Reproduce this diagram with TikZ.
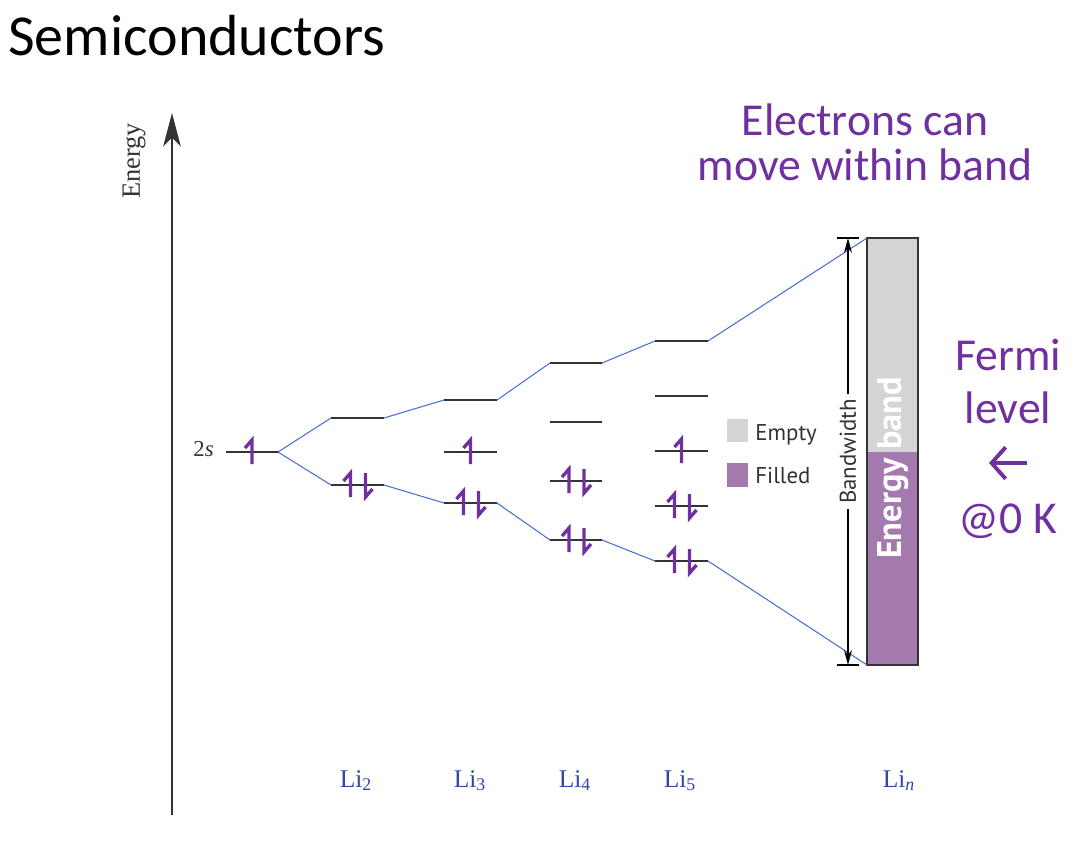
\documentclass[tikz,border=0pt]{standalone}
\usepackage{fontspec}
\setmainfont{Liberation Serif}
\newfontfamily\calibri{Carlito}
\newfontfamily\myriad{PT Sans}
\usetikzlibrary{arrows.meta}

\definecolor{spinpurple}{HTML}{7030A0}
\definecolor{bandpurple}{HTML}{A47AAE}
\definecolor{bandgray}{HTML}{D4D4D6}
\definecolor{corrblue}{HTML}{4A6FD6}
\definecolor{labelblue}{HTML}{3445A8}
\definecolor{levelgray}{HTML}{333333}

\begin{document}
\begin{tikzpicture}[x=0.02cm, y=-0.02cm,
  mo/.style={draw=levelgray, line width=1.5pt},
  corr/.style={draw=corrblue, line width=0.6pt},
  spin/.style={draw=spinpurple, line width=1.9pt},
  note/.style={text=spinpurple, inner sep=0pt, anchor=base},
  li/.style={text=labelblue, font=\fontsize{14.5}{17}\selectfont, anchor=base},
  legtext/.style={text=levelgray, font=\myriad\fontsize{13}{16}\selectfont, anchor=base west, inner sep=0pt}]
\useasboundingbox (0,0) rectangle (1092,860);

\def\spinh{12}
\def\barb{7}

% title
\node[anchor=base west, inner sep=0pt, font=\calibri\fontsize{33}{40}\selectfont] (title) at (8,55) {Semiconductors};

% energy axis
\coordinate (axbot) at (172,815);
\coordinate (axtop) at (172,113);
\draw[levelgray, line width=0.7pt, -{Stealth[length=19pt, width=10pt, inset=5pt]}] (axbot) -- (axtop);
\node[rotate=90, text=levelgray, font=\fontsize{15}{18}\selectfont] (elabel) at (134,161) {Energy};

% molecular levels
\draw[mo] (226,452) coordinate (s2L) -- (278,452) coordinate (s2R);
\node[anchor=base east, inner sep=0pt, text=levelgray, font=\fontsize{13}{16}\selectfont] (s2lab) at (214,456) {2\textit{s}};

\foreach \n/\l/\r/\y in {a2/331/384/418, b2/331/384/485,
                         a3/444/497/400, m3/444/497/452, b3/444/497/503,
                         a4/550/602/363, m4/550/602/422, n4/550/602/481, b4/550/602/540,
                         a5/655/708/341, m5/655/708/396, n5/655/708/451, o5/655/708/506, b5/655/708/561}
  \draw[mo] (\l,\y) coordinate (\n L) -- (\r,\y) coordinate (\n R);

% energy band
\coordinate (bandNW) at (867,238);
\coordinate (fermiE) at (918,452);
\coordinate (fermiW) at (867,452);
\coordinate (bandSE) at (918,665);
\coordinate (bandSW) at (867,665);
\fill[bandgray] (bandNW) rectangle (fermiE);
\fill[bandpurple] (fermiW) rectangle (bandSE);
\draw[levelgray, line width=1.2pt] (bandNW) rectangle (bandSE);
\node[rotate=90, text=white, font=\myriad\bfseries\fontsize{19.5}{23}\selectfont] (ebtext) at (893,468) {Energy band};

% correlation lines
\draw[corr] (s2R) -- (a2L);
\draw[corr] (s2R) -- (b2L);
\draw[corr] (a2R) -- (a3L);
\draw[corr] (b2R) -- (b3L);
\draw[corr] (a3R) -- (a4L);
\draw[corr] (b3R) -- (b4L);
\draw[corr] (a4R) -- (a5L);
\draw[corr] (b4R) -- (b5L);
\draw[corr] (a5R) -- (bandNW);
\draw[corr] (b5R) -- (bandSW);

% electrons
\foreach \x/\y in {252/452, 470.5/452, 681.5/451}
  \draw[spin] (\x,\y+\spinh) -- (\x,\y-\spinh) -- ++(-\barb,8);
\foreach \x/\y in {357.5/485, 470.5/503, 576/481, 576/540, 681.5/506, 681.5/561} {
  \draw[spin] (\x-7,\y+\spinh) -- (\x-7,\y-\spinh) -- ++(-\barb,8);
  \draw[spin] (\x+8,\y-\spinh) -- (\x+8,\y+\spinh) -- ++(\barb,-8);
}

% bandwidth
\coordinate (bwtop) at (848,238);
\coordinate (bwbot) at (848,665);
\draw[line width=0.6pt, {Stealth[length=8.5pt, width=4.5pt]}-{Stealth[length=8.5pt, width=4.5pt]}] (bwtop) -- (bwbot)
  node[midway, rotate=90, fill=white, inner sep=3pt, text=levelgray, font=\myriad\fontsize{13}{16}\selectfont] (bw) {Bandwidth};
\draw[line width=0.6pt] (bwtop) ++(-11,0) -- ++(22,0);
\draw[line width=0.6pt] (bwbot) ++(-11,0) -- ++(22,0);

% legend
\fill[bandgray] (727,419) rectangle (748,442);
\node[legtext] (empty) at (755,440) {Empty};
\fill[bandpurple] (727,463) rectangle (748,487);
\node[legtext] (filled) at (755,483) {Filled};

% molecule labels
\foreach \x/\s in {356/2, 470/3, 575/4, 680/5}
  \node[li] (li\s) at (\x,787) {Li\textsubscript{\s}};
\node[li] (lin) at (899,787) {Li\textsubscript{\itshape n}};

% notes
\node[note, align=center, font=\calibri\fontsize{26}{25.6}\selectfont] (move) at (865,180) {Electrons can\\move within band};
\node[note, align=center, font=\calibri\fontsize{26}{30}\selectfont] (fermi) at (1008,423) {Fermi\\level};
\coordinate (farrowR) at (1027,463);
\coordinate (farrowL) at (989,463);
\draw[spinpurple, line width=2.2pt, -{Straight Barb[length=8pt, width=18pt]}] (farrowR) -- (farrowL);
\node[note, font=\calibri\fontsize{26}{30}\selectfont] (zerok) at (1008,533) {@0 K};
\end{tikzpicture}
\end{document}
